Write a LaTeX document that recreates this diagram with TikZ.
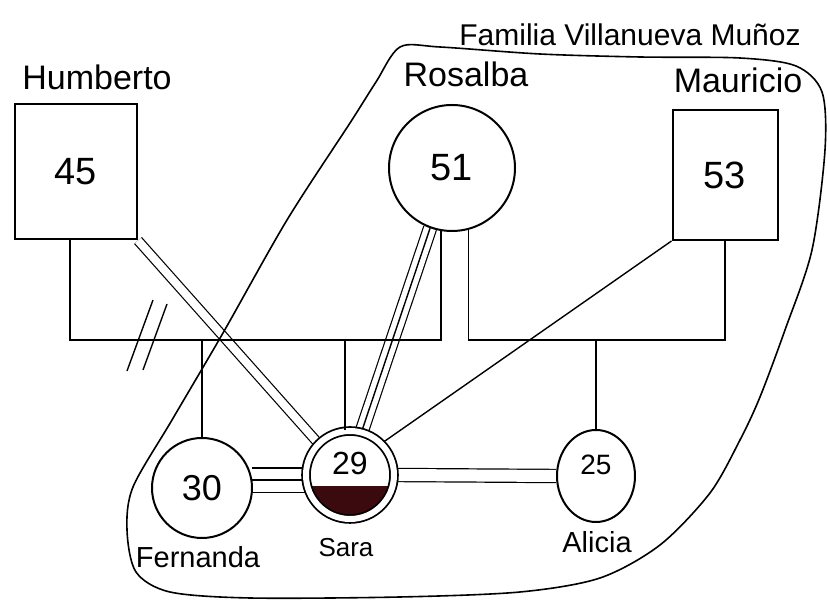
\documentclass[tikz,border=0pt]{standalone}
\usepackage{fontspec}
\setmainfont{Liberation Sans}
\usetikzlibrary{calc,shapes.geometric,backgrounds}
\definecolor{darkfill}{RGB}{58,10,14}

\begin{document}
\begin{tikzpicture}[x=0.5pt,y=-0.5pt,
  male/.style={draw,line width=1pt,rectangle,inner sep=0pt,font=\fontsize{19}{22}\selectfont},
  female/.style={draw,line width=1pt,circle,inner sep=0pt,font=\fontsize{19}{22}\selectfont},
  nametag/.style={font=\fontsize{17}{20}\selectfont},
  tie/.style={line width=0.7pt},
  bond/.style={line width=0.6pt,double,double distance=#1},
]
\useasboundingbox (0,0) rectangle (827,603);

% Household boundary
\draw[line width=0.8pt] plot[smooth cycle,tension=0.5] coordinates {
  (400,47) (440,47) (540,54) (640,57) (740,58) (796,66) (822,92) (825,150)
  (812,250) (785,330) (760,397) (740,440) (710,493) (660,545) (600,578)
  (520,592) (400,597) (250,598) (170,592) (136,572) (127,530) (133,487)
  (172,420) (223,333) (287,220) (350,123) (376,82)};
\node[font=\fontsize{15}{18}\selectfont] (familyname) at (630,35) {Familia Villanueva Muñoz};

% Parents
\node[male,minimum width=61pt,minimum height=67.5pt] (humberto) at (76,172) {45};
\node[female,minimum size=63pt] (rosalba) at (452,168) {51};
\node[male,minimum width=52.5pt,minimum height=65pt] (mauricio) at (725,175) {53};

\node[nametag] (humbertoname) at (97,77) {Humberto};
\node[nametag] (rosalbaname) at (466,74) {Rosalba};
\node[nametag] (mauricioname) at (738,80) {Mauricio};

% Children
\node[female,minimum size=50pt,font=\fontsize{18}{21}\selectfont] (fernanda) at (202,488) {30};

\coordinate (sarapos) at (350,475);
\begin{scope}
  \clip (sarapos) circle (20pt);
  \fill[darkfill] ($(sarapos)+(-50,11)$) rectangle ($(sarapos)+(50,50)$);
\end{scope}
\node[female,double,double distance=3pt,line width=0.9pt,minimum size=44pt,
  label={[font=\fontsize{16}{19}\selectfont,yshift=6pt]center:29}] (sara) at (sarapos) {};

\node[draw,line width=1pt,ellipse,inner sep=0pt,minimum width=39pt,minimum height=46pt,
  label={[font=\fontsize{14}{17}\selectfont,yshift=5.5pt]center:25}] (alicia) at (596,476) {};

\node[nametag,font=\fontsize{14.5}{17}\selectfont] (fernandaname) at (198,557) {Fernanda};
\node[nametag,font=\fontsize{13}{15}\selectfont] (saraname) at (346,548) {Sara};
\node[nametag,font=\fontsize{14.5}{17}\selectfont] (alicianame) at (597,542) {Alicia};

% Marriages
\coordinate (bar) at (0,340);
\draw[tie] ([xshift=-3pt]humberto.south) |- (rosalba.-100 |- bar) -- (rosalba.-100);
\draw[tie] (rosalba.-75) -- (rosalba.-75 |- bar) -| (mauricio.south);
% divorce
\draw[tie] (153,300) -- (127,371);
\draw[tie] (167,304) -- (143,370);

% Descent
\draw[tie] (fernanda.north) -- (fernanda.north |- bar);
\draw[tie] ([xshift=-2.5pt]sara.north) -- ([xshift=-2.5pt]sara.north |- bar);
\draw[tie] (alicia.north) -- (alicia.north |- bar);

% Relations
\begin{pgfonlayer}{background}
  \draw[bond=4pt] (humberto.south east) -- (sara.135);
  \draw[bond=6pt] (rosalba.-110) -- (sara.75);
  \draw[tie] (rosalba.-110) -- (sara.75);
  \draw[tie] (mauricio.south west) -- (sara.45);
  \draw[bond=11.5pt] (fernanda.9) -- (sara.west |- fernanda.9);
  \draw[tie] (fernanda.9) -- (sara.west |- fernanda.9);
  \draw[bond=6pt] (sara.east) -- (alicia.west);
\end{pgfonlayer}
\end{tikzpicture}
\end{document}
